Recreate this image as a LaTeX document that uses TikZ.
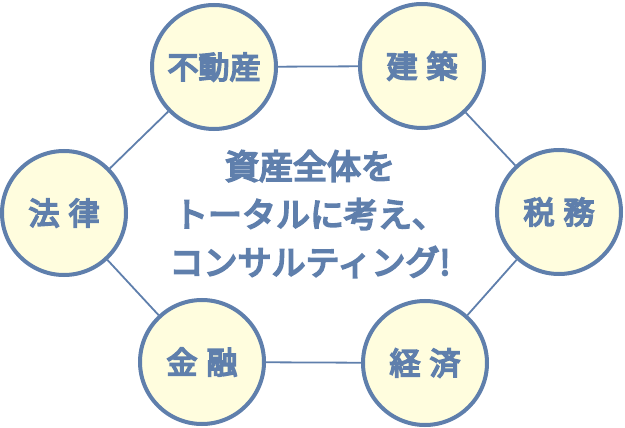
\documentclass[tikz,border=0pt]{standalone}
\usepackage{fontspec}
\newfontfamily\jpfont{Noto Sans CJK JP}[FakeBold=5.5]
\usepackage{tikz}
\definecolor{ringblue}{RGB}{95,127,172}
\definecolor{creamfill}{RGB}{255,253,222}
\tikzset{
  field/.style = {circle, draw=ringblue, line width=4pt, fill=creamfill, minimum size=124pt, inner sep=0pt,
                  text=ringblue, font=\jpfont\fontsize{31}{31}\selectfont},
  link/.style  = {draw=ringblue, line width=1.8pt},
  msg/.style   = {text=ringblue, align=center, font=\jpfont\fontsize{34}{48}\selectfont},
}

\begin{document}
\begin{tikzpicture}[x=1pt, y=-1pt]
    \useasboundingbox (0,0) rectangle (625,428);

    % six fields round the hexagon
    \node[field] (realestate) at (214,67)  {不動産};
    \node[field] (building)   at (422,66)  {建\hspace{9pt}築};
    \node[field] (tax)        at (559,212) {税\hspace{9pt}務};
    \node[field] (economy)    at (425,363) {経\hspace{9pt}済};
    \node[field] (finance)    at (202,362) {金\hspace{9pt}融};
    \node[field] (law)        at (64,213)  {法\hspace{9pt}律};

    % links between neighbours
    \draw[link] (realestate) -- (building);
    \draw[link] (building) -- (tax);
    \draw[link] (tax) -- (economy);
    \draw[link] (economy) -- (finance);
    \draw[link] (finance) -- (law);
    \draw[link] (law) -- (realestate);

    % message in the middle
    \node[msg] (centre) at (310,214) {資産全体を\\トータルに考え、\\コンサルティング!};
\end{tikzpicture}
\end{document}
